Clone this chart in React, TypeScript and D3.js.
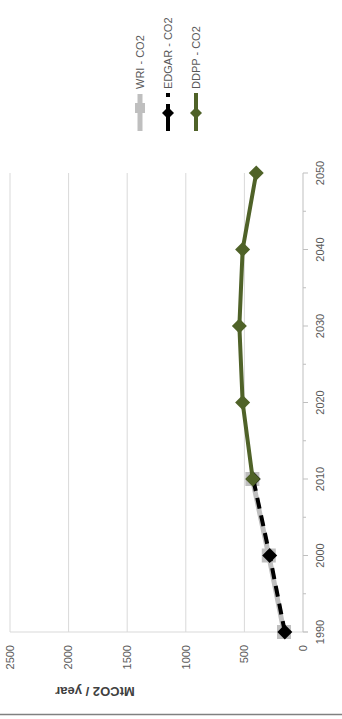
import React, { useEffect } from "react";
import * as d3 from "d3";

const years = [1990, 2000, 2010, 2020, 2030, 2040, 2050];
const valueTicks = [0, 500, 1000, 1500, 2000, 2500];

const wriYears = [1990, 2000, 2010];
const wriValues = [162, 292, 432];

const edgarYears = [1990, 2000, 2010];
const edgarValues = [155, 284, 425];

const ddppYears = [2010, 2020, 2030, 2040, 2050];
const ddppValues = [429, 515, 543, 515, 399];

const legendLabels = ["WRI - CO2", "EDGAR - CO2", "DDPP - CO2"];

const GREEN = "#4f6228";
const GRAY = "#bfbfbf";
const FONT = "'Liberation Sans', Arial, sans-serif";

function diamond(cx: number, cy: number, r: number) {
  return `M${cx},${cy - r}L${cx + r},${cy}L${cx},${cy + r}L${cx - r},${cy}Z`;
}

export default function App() {
  useEffect(() => {
    document.body.style.margin = "0";
  }, []);

  const W = 342;
  const H = 719;

  const yScale = d3.scaleLinear().domain([1990, 2050]).range([632, 173]);
  const vScale = d3.scaleLinear().domain([0, 2500]).range([303, 10]);

  const mk = (ys: number[], vs: number[]) => ys.map((y, i) => ({ y, v: vs[i] }));
  const wri = mk(wriYears, wriValues);
  const edgar = mk(edgarYears, edgarValues);
  const ddpp = mk(ddppYears, ddppValues);

  const line = d3
    .line<{ y: number; v: number }>()
    .x((d) => vScale(d.v))
    .y((d) => yScale(d.y));

  const legendX = [140, 168, 196];

  return (
    <svg width={W} height={H} style={{ display: "block" }} fontFamily={FONT}>
      <rect x={0} y={0} width={W} height={H} fill="#fff" />
      {/* gridlines */}
      {valueTicks.slice(1).map((t) => (
        <line
          key={t}
          x1={vScale(t)}
          x2={vScale(t)}
          y1={yScale(2050)}
          y2={yScale(1990)}
          stroke="#d9d9d9"
          strokeWidth={1}
        />
      ))}
      {/* left plot border (1990) */}
      <line x1={vScale(2500)} x2={vScale(0) + 5} y1={yScale(1990)} y2={yScale(1990)} stroke="#d9d9d9" />
      {/* year axis */}
      <line x1={vScale(0)} x2={vScale(0)} y1={yScale(2050)} y2={yScale(1990)} stroke={GRAY} strokeWidth={1} />
      {years.map((yr) => (
        <line key={yr} x1={vScale(0)} x2={vScale(0) + 5} y1={yScale(yr)} y2={yScale(yr)} stroke={GRAY} />
      ))}
      {d3.range(1995, 2050, 10).map((yr) => (
        <line key={yr} x1={vScale(0)} x2={vScale(0) + 3} y1={yScale(yr)} y2={yScale(yr)} stroke={GRAY} />
      ))}
      {/* year labels */}
      {years.map((yr) => (
        <text
          key={yr}
          transform={`translate(${320},${yScale(yr)}) rotate(-90)`}
          textAnchor="middle"
          dy="0.35em"
          fontSize={11}
          fill="#595959"
        >
          {yr}
        </text>
      ))}
      {/* value labels */}
      {valueTicks.map((t) => (
        <text
          key={t}
          transform={`translate(${vScale(t)},${645}) rotate(-90)`}
          textAnchor="end"
          dy="0.35em"
          fontSize={11}
          fill="#595959"
        >
          {t}
        </text>
      ))}
      {/* axis title */}
      <text
        transform={`translate(${95},${692}) rotate(180)`}
        textAnchor="middle"
        dy="0.35em"
        fontSize={13}
        fontWeight="bold"
        fill="#404040"
      >
        MtCO2 / year
      </text>
      {/* WRI */}
      <path d={line(wri) || ""} fill="none" stroke={GRAY} strokeWidth={5} />
      {wri.map((d, i) => (
        <rect key={i} x={vScale(d.v) - 7} y={yScale(d.y) - 7} width={14} height={14} fill={GRAY} />
      ))}
      {/* EDGAR */}
      <path d={line(edgar) || ""} fill="none" stroke="#000" strokeWidth={4} strokeDasharray="11 7" />
      {edgar.map((d, i) => (
        <path key={i} d={diamond(vScale(d.v), yScale(d.y), 7.5)} fill="#000" />
      ))}
      {/* DDPP */}
      <path d={line(ddpp) || ""} fill="none" stroke={GREEN} strokeWidth={4} />
      {ddpp.map((d, i) => (
        <path key={i} d={diamond(vScale(d.v), yScale(d.y), 7.5)} fill={GREEN} />
      ))}
      {/* legend */}
      <line x1={legendX[0]} x2={legendX[0]} y1={94} y2={131} stroke={GRAY} strokeWidth={5} />
      <rect x={legendX[0] - 5} y={103} width={10} height={10} fill={GRAY} />
      <line x1={legendX[1]} x2={legendX[1]} y1={93} y2={131} stroke="#000" strokeWidth={4} strokeDasharray="4 7 30" />
      <path d={diamond(legendX[1], 113, 6)} fill="#000" />
      <line x1={legendX[2]} x2={legendX[2]} y1={93} y2={131} stroke={GREEN} strokeWidth={4} />
      <path d={diamond(legendX[2], 113, 6)} fill={GREEN} />
      {legendLabels.map((l, i) => (
        <text
          key={l}
          transform={`translate(${legendX[i]},${89}) rotate(-90)`}
          textAnchor="start"
          dy="0.35em"
          fontSize={11}
          fill="#595959"
        >
          {l}
        </text>
      ))}
      {/* bottom frame */}
      <line x1={0} x2={W} y1={714.5} y2={714.5} stroke="#808080" strokeWidth={1.5} />
    </svg>
  );
}
